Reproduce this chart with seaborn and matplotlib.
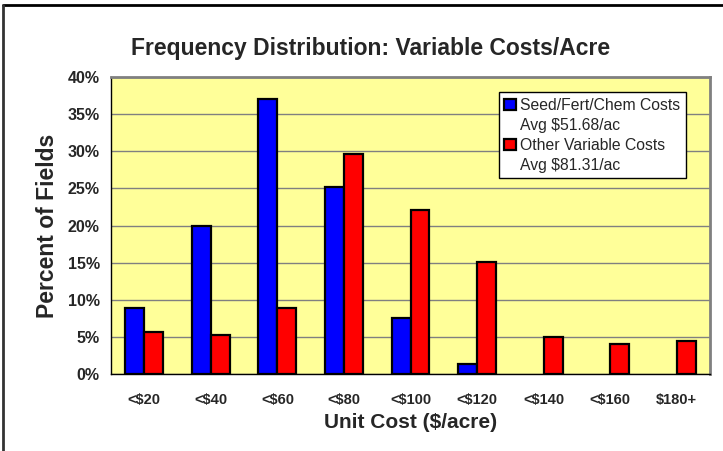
import numpy as np
import pandas as pd
import matplotlib
matplotlib.use("Agg")
import matplotlib.pyplot as plt
from matplotlib.lines import Line2D
from matplotlib.patches import Patch
from matplotlib.ticker import FuncFormatter
import seaborn as sns

# data (percent of fields)
categories = ['<$20', '<$40', '<$60', '<$80', '<$100', '<$120', '<$140', '<$160', '$180+']
seed_fert_chem = [8.85, 19.95, 37.1, 25.2, 7.55, 1.35, 0.0, 0.0, 0.0]
other_variable = [5.7, 5.3, 8.85, 29.6, 22.1, 15.06, 4.94, 4.0, 4.45]
series_names = ['Seed/Fert/Chem Costs', 'Other Variable Costs']
averages = ['Avg $51.68/ac', 'Avg $81.31/ac']

df = pd.DataFrame({
    'cat': categories * 2,
    'pct': seed_fert_chem + other_variable,
    'series': [series_names[0]] * len(categories) + [series_names[1]] * len(categories),
})

sns.set_style("white")
plt.rcParams['font.family'] = ['Liberation Sans', 'DejaVu Sans']

fig = plt.figure(figsize=(7.23, 4.51), dpi=100)
ax = fig.add_axes([0.1535, 0.1707, 0.8286, 0.6586])
ax.set_facecolor('#FFFF99')

sns.barplot(data=df, x='cat', y='pct', hue='series', order=categories,
            hue_order=series_names, palette=['#0000FF', '#FF0000'],
            edgecolor='black', linewidth=1.6, width=0.57, gap=0,
            saturation=1, ax=ax, zorder=3)

# empty bins show nothing
for cont in ax.containers:
    for p in cont:
        if p.get_height() == 0:
            p.set_visible(False)

ax.set_ylim(0, 40)
ax.set_xlim(-0.5, len(categories) - 0.5)
ax.set_yticks(np.arange(0, 41, 5))
ax.yaxis.set_major_formatter(FuncFormatter(lambda v, p: f'{v:.0f}%'))
ax.yaxis.grid(True, color='#808080', linewidth=1.0, zorder=0)
ax.set_axisbelow(True)

# x ticks sit between categories
ax.set_xticks(np.arange(-0.5, len(categories), 1.0), minor=False)
ax.set_xticklabels([])
ax.set_xticks(np.arange(len(categories)), minor=True)
ax.set_xticklabels(categories, minor=True, fontsize=10.5, fontweight='bold')
ax.tick_params(axis='x', which='minor', length=0, pad=14)
ax.tick_params(axis='x', which='major', length=5, width=1, direction='out', color='black')
ax.tick_params(axis='y', length=5, width=1, direction='out', color='black', pad=3)
for lab in ax.get_yticklabels():
    lab.set_fontsize(11.5)
    lab.set_fontweight('bold')

for s in ['top', 'right']:
    ax.spines[s].set_color('#808080')
    ax.spines[s].set_linewidth(2)
for s in ['left', 'bottom']:
    ax.spines[s].set_color('black')
    ax.spines[s].set_linewidth(1)

ax.set_xlabel('Unit Cost ($/acre)', fontsize=15, fontweight='bold', labelpad=4)
ax.set_ylabel('Percent of Fields', fontsize=16.5, fontweight='bold', labelpad=6)

fig.text(0.512, 0.893, 'Frequency Distribution: Variable Costs/Acre',
         ha='center', va='center', fontsize=16.5, fontweight='bold')

# legend: colour square on first line, average on second line
blank = Patch(facecolor='none', edgecolor='none')
leg_handles = [Patch(facecolor='#0000FF', edgecolor='black', linewidth=1.6), blank,
               Patch(facecolor='#FF0000', edgecolor='black', linewidth=1.6), blank]
leg_labels = [series_names[0], averages[0], series_names[1], averages[1]]
leg = ax.legend(leg_handles, leg_labels, loc='upper right', bbox_to_anchor=(0.96, 0.948),
                fontsize=11.3, frameon=True, fancybox=False, edgecolor='black', framealpha=1,
                handlelength=0.75, handleheight=0.75, handletextpad=0.3,
                borderpad=0.35, labelspacing=0.32, borderaxespad=0)
leg.get_frame().set_linewidth(1)

# outer chart border (top and left visible)
fig.add_artist(Line2D([0.0048, 1.0], [0.990, 0.990], color='black', linewidth=2, transform=fig.transFigure))
fig.add_artist(Line2D([0.0048, 0.0048], [0.0, 0.990], color='#333333', linewidth=2, transform=fig.transFigure))

fig.savefig('out.png', dpi=100)
